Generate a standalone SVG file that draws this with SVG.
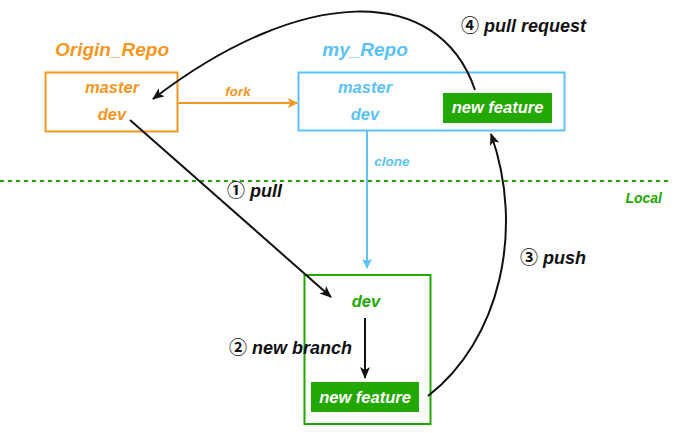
<svg xmlns="http://www.w3.org/2000/svg" width="679" height="433" viewBox="0 0 679 433">
<defs>
<style>
text{font-family:"Liberation Sans",Arial,"Noto Sans CJK SC",sans-serif;font-weight:bold;font-style:italic}
.or{fill:#F5961E}.bl{fill:#5BC2F7}.gr{fill:#22A800}.wh{fill:#fff}.bk{fill:#111}
.c{text-anchor:middle}
.n{font-style:normal;font-weight:bold}
</style>
<marker id="ab" markerWidth="12" markerHeight="10" refX="11" refY="5" orient="auto" markerUnits="userSpaceOnUse"><path d="M0,0 L12,5 L0,10 L3,5 z" fill="#111"/></marker>
<marker id="ao" markerWidth="10" markerHeight="10" refX="9" refY="5" orient="auto" markerUnits="userSpaceOnUse"><path d="M0,0 L10,5 L0,10 L2,5 z" fill="#F5961E"/></marker>
<marker id="abl" markerWidth="10" markerHeight="10" refX="9" refY="5" orient="auto" markerUnits="userSpaceOnUse"><path d="M0,0 L10,5 L0,10 L2,5 z" fill="#5BC2F7"/></marker>
</defs>
<rect width="679" height="433" fill="#fff"/>
<line x1="0" y1="181" x2="668" y2="181" stroke="#22A800" stroke-width="2" stroke-dasharray="4,4"/>
<text x="662" y="203" font-size="14" class="gr" text-anchor="end">Local</text>
<g id="origin">
<text x="112" y="56" font-size="19" class="or c">Origin_Repo</text>
<rect x="45.5" y="72.5" width="132" height="59" fill="none" stroke="#F5961E" stroke-width="2"/>
<text x="112" y="93" font-size="16.5" class="or c">master</text>
<text x="112" y="120" font-size="16.5" class="or c">dev</text>
</g>
<g id="myrepo">
<text x="365" y="56" font-size="19" class="bl c">my_Repo</text>
<rect x="298.5" y="72.5" width="266" height="58" fill="none" stroke="#5BC2F7" stroke-width="2"/>
<text x="365" y="93" font-size="16.5" class="bl c">master</text>
<text x="365" y="120" font-size="16.5" class="bl c">dev</text>
<rect x="443" y="93" width="109" height="30" fill="#22A800"/>
<text x="497.5" y="113" font-size="16.5" class="wh c">new feature</text>
</g>
<g id="local">
<rect x="304.5" y="275" width="126" height="149" fill="none" stroke="#22A800" stroke-width="2"/>
<text x="366" y="307" font-size="16.5" class="gr c">dev</text>
<rect x="311" y="382" width="108" height="30" fill="#22A800"/>
<text x="365" y="403" font-size="16.5" class="wh c">new feature</text>
</g>
<g id="connectors" fill="none" stroke-width="2">
<line x1="178" y1="103" x2="297" y2="103" stroke="#F5961E" marker-end="url(#ao)"/>
<line x1="367" y1="131" x2="367" y2="268" stroke="#5BC2F7" marker-end="url(#abl)"/>
<line x1="130" y1="120" x2="331" y2="297" stroke="#111" marker-end="url(#ab)"/>
<line x1="365" y1="318" x2="365" y2="378" stroke="#111" marker-end="url(#ab)"/>
<path d="M428,396 C500,340 525,230 491,134" stroke="#111" marker-end="url(#ab)"/>
<path d="M475,90 C438,-18 300,-14 153,99" stroke="#111" marker-end="url(#ab)"/>
</g>
<g id="labels">
<text x="227" y="197" font-size="18" class="bk"><tspan class="n">①</tspan> pull</text>
<text x="229" y="354" font-size="18" class="bk"><tspan class="n">②</tspan> new branch</text>
<text x="520" y="264" font-size="18" class="bk"><tspan class="n">③</tspan> push</text>
<text x="461" y="32" font-size="18" class="bk"><tspan class="n">④</tspan> pull request</text>
<text x="238" y="96" font-size="13.5" class="or c">fork</text>
<text x="392" y="166" font-size="13.5" class="bl c">clone</text>
</g>
</svg>
